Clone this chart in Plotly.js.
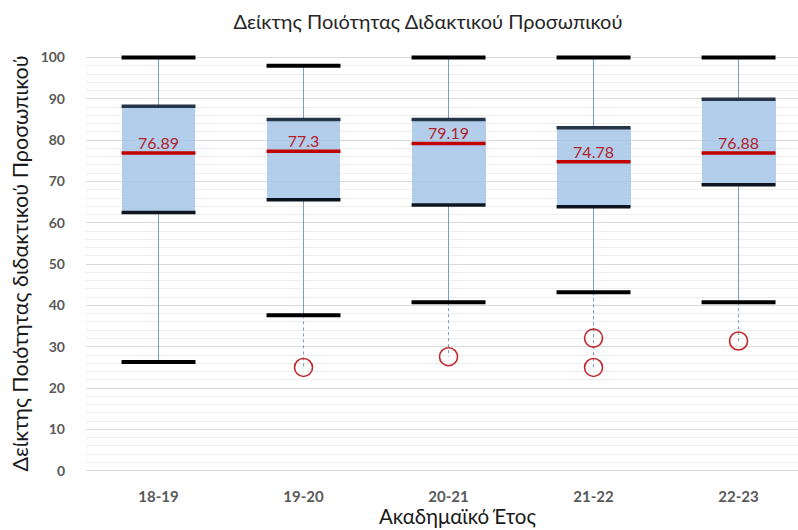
<!DOCTYPE html>
<html>
<head>
<meta charset="utf-8">
<script src="https://cdn.plot.ly/plotly-3.0.1.min.js"></script>
<style>html,body{margin:0;padding:0;background:#fff;}#chart{width:798px;height:530px;}</style>
</head>
<body>
<div id="chart"></div>
<script>
const categories = ['18-19', '19-20', '20-21', '21-22', '22-23'];
const maxValues = [100, 98, 100, 100, 100];
const q3Values = [88.2, 85, 85, 83, 89.9];
const medians = [76.89, 77.3, 79.19, 74.78, 76.88];
const q1Values = [62.5, 65.6, 64.3, 63.9, 69.2];
const minValues = [26.3, 37.6, 40.8, 43.2, 40.8];
const outlierCat = [1, 2, 3, 3, 4];
const outlierValues = [25, 27.6, 32.1, 25, 31.4];
const yTicks = [0, 10, 20, 30, 40, 50, 60, 70, 80, 90, 100];

const idx = categories.map((c, i) => i);
const half = 0.255;

function segments(vals) {
  const xs = [], ys = [];
  idx.forEach(i => { xs.push(i - half, i + half, null); ys.push(vals[i], vals[i], null); });
  return {x: xs, y: ys};
}
function vertical(aVals, bVals, cats) {
  const xs = [], ys = [];
  cats.forEach((c, k) => { xs.push(c, c, null); ys.push(aVals[k], bVals[k], null); });
  return {x: xs, y: ys};
}

const font = 'Lato, "Open Sans", "DejaVu Sans", sans-serif';

const traces = [];
traces.push({
  type: 'bar', x: idx, base: q1Values, y: idx.map(i => q3Values[i] - q1Values[i]),
  width: 2 * half, marker: {color: 'rgba(164,198,232,0.85)', line: {width: 0}},
  hoverinfo: 'skip', showlegend: false
});
const wUp = vertical(q3Values, maxValues, idx);
const wLo = vertical(minValues, q1Values, idx);
traces.push({type: 'scatter', mode: 'lines', x: wUp.x.concat(wLo.x), y: wUp.y.concat(wLo.y),
  line: {color: '#7a9cc0', width: 1}, hoverinfo: 'skip', showlegend: false});
const dashOut = vertical(outlierCat.map(c => minValues[c]), outlierValues, outlierCat);
traces.push({type: 'scatter', mode: 'lines', x: dashOut.x, y: dashOut.y,
  line: {color: '#7a9cc0', width: 1, dash: '3px,3px'}, hoverinfo: 'skip', showlegend: false});
const capT = segments(maxValues), capB = segments(minValues);
traces.push({type: 'scatter', mode: 'lines', x: capT.x.concat(capB.x), y: capT.y.concat(capB.y),
  line: {color: '#000000', width: 4}, hoverinfo: 'skip', showlegend: false});
const eT = segments(q3Values), eB = segments(q1Values);
traces.push({type: 'scatter', mode: 'lines', x: eT.x, y: eT.y,
  line: {color: '#263548', width: 3.5}, hoverinfo: 'skip', showlegend: false});
traces.push({type: 'scatter', mode: 'lines', x: eB.x, y: eB.y,
  line: {color: '#0d1620', width: 3.5}, hoverinfo: 'skip', showlegend: false});
const md = segments(medians);
traces.push({type: 'scatter', mode: 'lines', x: md.x, y: md.y,
  line: {color: '#c00000', width: 3.5}, hoverinfo: 'skip', showlegend: false});
traces.push({type: 'scatter', mode: 'text', x: idx, y: medians, text: medians.map(String),
  textposition: 'top center', textfont: {family: font, size: 16, color: '#b3212a'},
  hoverinfo: 'skip', showlegend: false, cliponaxis: false});
traces.push({type: 'scatter', mode: 'markers', x: outlierCat, y: outlierValues,
  marker: {symbol: 'circle-open', size: 18, color: '#c0282d', line: {width: 1.6, color: '#c0282d'}},
  hoverinfo: 'skip', showlegend: false, cliponaxis: false});

const layout = {
  width: 798, height: 530,
  margin: {l: 86, r: 0, t: 54.5, b: 58},
  paper_bgcolor: '#ffffff', plot_bgcolor: '#ffffff',
  font: {family: font, color: '#595959'},
  title: {text: 'Δείκτης Ποιότητας Διδακτικού Προσωπικού', xref: 'container', x: 428 / 798, xanchor: 'center',
    yref: 'container', y: 1 - 22 / 530, yanchor: 'middle',
    font: {family: font, size: 20, color: '#262626'}},
  xaxis: {
    range: [-0.5, 4.41], tickvals: idx, ticktext: categories,
    tickfont: {family: font, size: 15, color: '#595959', weight: 'bold'},
    showgrid: false, zeroline: false, showline: false, ticks: '',
    ticklabelstandoff: 14
  },
  yaxis: {
    range: [-0.3, 100.6], tickvals: yTicks,
    tickfont: {family: font, size: 14, color: '#595959', weight: 'bold'},
    showgrid: true, gridcolor: '#d9d9d9', gridwidth: 1,
    minor: {dtick: 2, tick0: 0, showgrid: true, gridcolor: '#ededed', gridwidth: 1},
    zeroline: false, showline: false, ticks: '',
    ticklabelstandoff: 20,
    title: {text: 'Δείκτης Ποιότητας διδακτικού Προσωπικού', font: {family: font, size: 21.5, color: '#1a1a1a'}, standoff: 6}
  },
  annotations: [{
    text: 'Ακαδημαϊκό Έτος', xref: 'paper', x: (457 - 86) / 712, xanchor: 'center',
    yref: 'paper', y: 0, yshift: -44, yanchor: 'middle', showarrow: false,
    font: {family: font, size: 20.5, color: '#1a1a1a'}
  }],
  bargap: 0
};

Plotly.newPlot('chart', traces, layout, {displayModeBar: false, staticPlot: true});
</script>
</body>
</html>
